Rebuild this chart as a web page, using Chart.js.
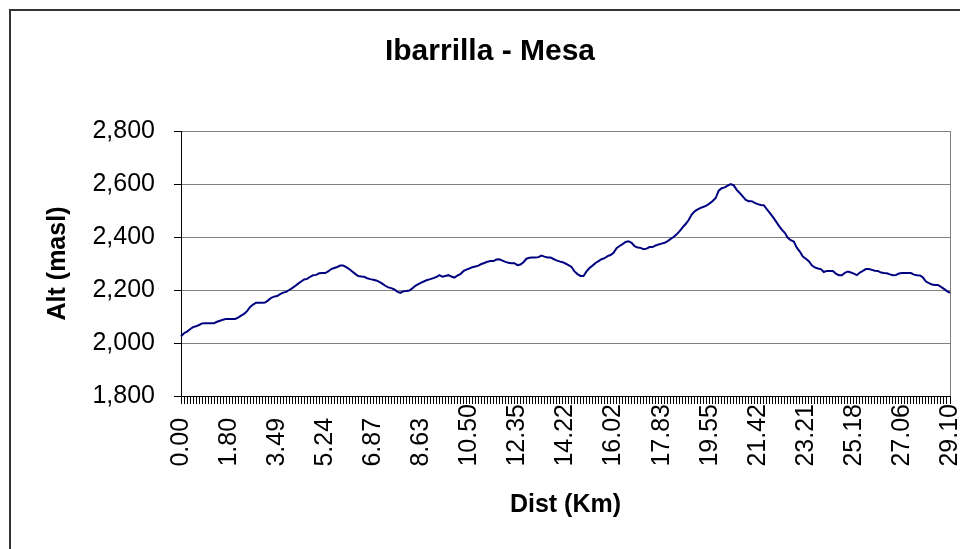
<!DOCTYPE html>
<html>
<head>
<meta charset="utf-8">
<script src="https://cdn.jsdelivr.net/npm/chart.js@4.4.1/dist/chart.umd.min.js"></script>
<style>
  html, body { margin: 0; padding: 0; background: #fff; overflow: hidden; }
  #wrap { position: relative; width: 960px; height: 549px; }
  #profile { position: absolute; left: 0; top: 0; }
  #frame { position: absolute; left: 9px; top: 9px; width: 1000px; height: 1000px;
           border-left: 2px solid #333; border-top: 2px solid #333; pointer-events: none; }
</style>
</head>
<body>
<div id="wrap">
  <canvas id="profile" width="960" height="549"></canvas>
  <div id="frame"></div>
</div>
<script>
// distance labels shown on the axis (one every 16 samples)
var distLabels = ['0.00', '1.80', '3.49', '5.24', '6.87', '8.63', '10.50', '12.35', '14.22',
                  '16.02', '17.83', '19.55', '21.42', '23.21', '25.18', '27.06', '29.10'];
var labelStep = 16;

// altitude (masl), one value per sample
var altitude = [
  2025, 2037, 2043, 2052, 2060, 2063, 2068, 2074, 2075, 2075, 2075, 2075, 2080, 2084, 2088, 2091,
  2091, 2091, 2091, 2096, 2103, 2110, 2120, 2136, 2145, 2152, 2152, 2152, 2153, 2161, 2170, 2175,
  2177, 2184, 2190, 2193, 2200, 2207, 2215, 2224, 2232, 2240, 2242, 2250, 2256, 2257, 2263, 2264,
  2264, 2270, 2279, 2283, 2287, 2292, 2292, 2286, 2279, 2270, 2261, 2253, 2251, 2250, 2244, 2241,
  2239, 2236, 2231, 2224, 2216, 2210, 2207, 2202, 2194, 2189, 2195, 2196, 2198, 2206, 2216, 2222,
  2228, 2233, 2238, 2241, 2245, 2249, 2256, 2250, 2253, 2256, 2251, 2247, 2254, 2260, 2271, 2277,
  2281, 2286, 2289, 2292, 2298, 2302, 2307, 2309, 2309, 2315, 2316, 2311, 2306, 2303, 2301, 2301,
  2294, 2296, 2305, 2318, 2322, 2323, 2323, 2324, 2330, 2326, 2323, 2323, 2317, 2312, 2308, 2305,
  2300, 2294, 2287, 2270, 2260, 2253, 2253, 2270, 2283, 2292, 2302, 2309, 2316, 2320, 2328, 2332,
  2340, 2358, 2366, 2373, 2381, 2384, 2378, 2365, 2360, 2359, 2354, 2356, 2362, 2362, 2368, 2372,
  2375, 2378, 2384, 2393, 2400, 2410, 2422, 2436, 2449, 2464, 2485, 2497, 2504, 2510, 2514, 2519,
  2527, 2536, 2547, 2575, 2584, 2587, 2594, 2600, 2595, 2578, 2566, 2553, 2540, 2535, 2535, 2529,
  2524, 2521, 2520, 2505, 2491, 2476, 2460, 2443, 2428, 2416, 2397, 2388, 2383, 2360, 2345, 2326,
  2318, 2309, 2293, 2285, 2281, 2279, 2268, 2272, 2272, 2272, 2262, 2256, 2256, 2265, 2270, 2266,
  2262, 2256, 2266, 2272, 2279, 2279, 2276, 2273, 2272, 2266, 2264, 2263, 2259, 2256, 2257, 2262,
  2264, 2264, 2264, 2264, 2258, 2256, 2255, 2247, 2232, 2226, 2221, 2219, 2219, 2212, 2204, 2196,
  2189
];

var yMin = 1800, yMax = 2800, yStep = 200;

// category labels: a distance every labelStep samples, blank in between
var categories = altitude.map(function (v, i) {
  return i % labelStep === 0 ? distLabels[i / labelStep] : '';
});

var FONT = '"Liberation Sans", Arial, sans-serif';

// gray right edge of the plot area, like the Excel plot frame
var plotFrame = {
  id: 'plotFrame',
  beforeDatasetsDraw: function (chart) {
    var a = chart.chartArea, c = chart.ctx;
    c.save();
    c.strokeStyle = '#808080';
    c.lineWidth = 1;
    c.beginPath();
    c.moveTo(Math.round(a.right) + 0.5, a.top);
    c.lineTo(Math.round(a.right) + 0.5, a.bottom);
    c.stroke();
    c.restore();
  }
};

var ctx = document.getElementById('profile').getContext('2d');
var chart = new Chart(ctx, {
  type: 'line',
  data: {
    labels: categories,
    datasets: [{
      label: 'Alt',
      data: altitude,
      borderColor: '#000080',
      borderWidth: 2,
      pointRadius: 0,
      tension: 0,
      fill: false
    }]
  },
  options: {
    responsive: false,
    animation: false,
    layout: { padding: { left: 30, right: 10, top: 0, bottom: 0 } },
    plugins: {
      legend: { display: false },
      tooltip: { enabled: false },
      title: {
        display: true,
        text: 'Ibarrilla - Mesa',
        color: '#000',
        font: { family: FONT, size: 30, weight: 'bold' },
        padding: { top: 34, bottom: 61 }
      }
    },
    scales: {
      x: {
        type: 'category',
        offset: false,
        afterFit: function (s) { s.height = 153; s.paddingLeft = 0; s.paddingRight = 0; },
        border: { display: true, color: '#000', width: 1 },
        grid: { drawOnChartArea: false, drawTicks: true, tickLength: 8, tickColor: '#000', offset: false },
        ticks: {
          autoSkip: false,
          minRotation: 90,
          maxRotation: 90,
          padding: 0,
          color: '#000',
          font: { family: FONT, size: 25 },
          callback: function (v, i) {
            var t = categories[i];
            if (!t) return '';
            return t.length < 5 ? t + '  ' : t;
          }
        },
        title: {
          display: true,
          text: 'Dist (Km)',
          color: '#000',
          font: { family: FONT, size: 25, weight: 'bold' },
          padding: { top: 0, bottom: 29 }
        }
      },
      y: {
        min: yMin,
        max: yMax,
        afterFit: function (s) { s.width = 151; },
        border: { display: true, color: '#000', width: 1 },
        grid: { color: '#808080', lineWidth: 1, tickLength: 7, tickColor: '#000' },
        ticks: {
          stepSize: yStep,
          padding: 19,
          color: '#000',
          font: { family: FONT, size: 25 },
          callback: function (v) { return v.toLocaleString('en-US'); }
        },
        title: {
          display: true,
          text: 'Alt (masl)',
          color: '#000',
          font: { family: FONT, size: 25, weight: 'bold' },
          padding: { top: 13, bottom: 0 }
        }
      }
    }
  },
  plugins: [plotFrame]
});
</script>
</body>
</html>
